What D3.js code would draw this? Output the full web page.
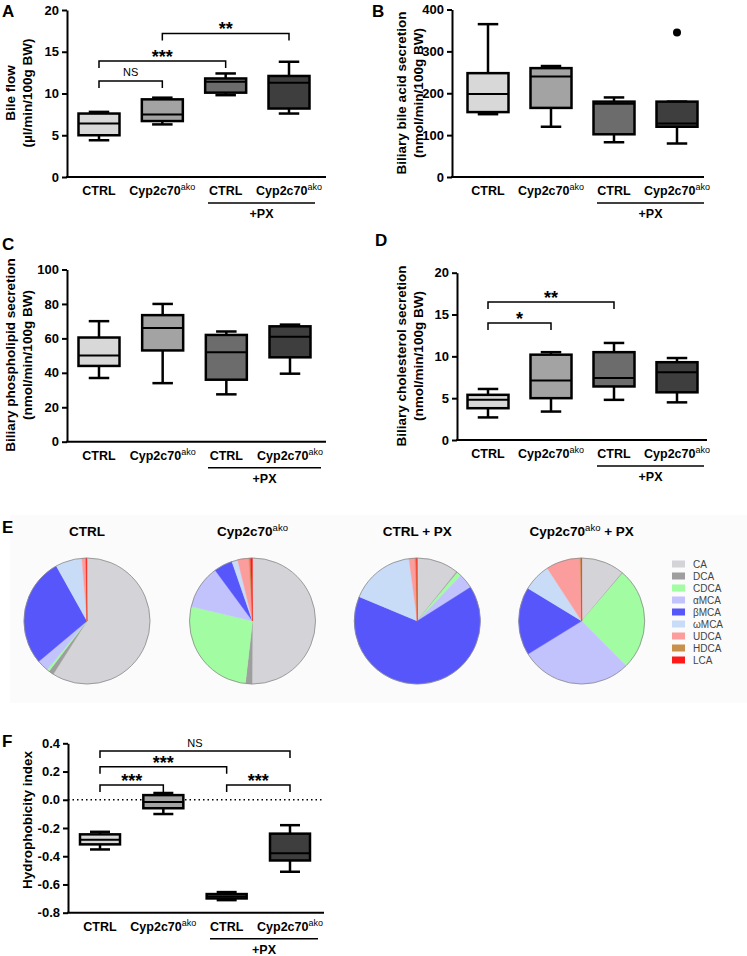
<!DOCTYPE html>
<html><head><meta charset="utf-8">
<script src="https://cdn.jsdelivr.net/npm/d3@7"></script>
<style>body{margin:0;background:#fff} text{font-family:Arial,"Liberation Sans",Helvetica,sans-serif}</style>
</head><body>
<svg id="c" width="747" height="956"></svg>
<script>
// ---------- DATA ----------
const groups = ["CTRL", "Cyp2c70ako", "CTRL+PX", "Cyp2c70ako+PX"];
const groupNames = ["CTRL", "Cyp2c70", "CTRL", "Cyp2c70"];
const groupSups = ["", "ako", "", "ako"];
const groupFills = ["#d8d8d8", "#a3a3a3", "#6c6c6c", "#3e3e3e"];
const treatmentLabel = "+PX";

// box stats: [min, q1, median, q3, max]
const bileFlow = [[4.4, 5.0, 6.4, 7.6, 7.8], [6.3, 6.7, 7.5, 9.3, 9.5], [9.8, 10.1, 11.4, 11.8, 12.4], [7.6, 8.2, 11.3, 12.1, 13.8]];
const bileAcidSecretion = [[150, 155, 198, 248, 365], [120, 165, 240, 260, 265], [83, 102, 175, 180, 190], [80, 120, 128, 180, 180]];
const bileAcidOutliers = [[3, 345]];
const phospholipidSecretion = [[37, 44, 50, 60.5, 70], [34, 53, 66, 73.5, 80], [27.5, 36, 52, 62, 64], [39.5, 49, 61, 67, 68]];
const cholesterolSecretion = [[2.7, 3.8, 4.8, 5.4, 6.1], [3.4, 5.0, 7.1, 10.2, 10.5], [4.8, 6.4, 7.4, 10.5, 11.6], [4.5, 5.7, 8.1, 9.3, 9.8]];
const hydrophobicityIndex = [[-0.352, -0.316, -0.283, -0.245, -0.227], [-0.101, -0.06, -0.015, 0.033, 0.048], [-0.711, -0.699, -0.685, -0.668, -0.654], [-0.51, -0.43, -0.378, -0.24, -0.18]];

const ticksA = [0, 5, 10, 15, 20];
const ticksB = [0, 100, 200, 300, 400];
const ticksC = [0, 20, 40, 60, 80, 100];
const ticksD = [0, 5, 10, 15, 20];
const ticksF = [-0.8, -0.6, -0.4, -0.2, 0.0, 0.2, 0.4];
const tickLabelsF = ["-0.8", "-0.6", "-0.4", "-0.2", "0.0", "0.2", "0.4"];

const bracketsA = [{a: 0, b: 1, v: 11.5, t: "NS"}, {a: 0, b: 2, v: 13.9, t: "***"}, {a: 1, b: 3, v: 17.2, t: "**"}];
const bracketsD = [{a: 0, b: 1, v: 14.0, t: "*"}, {a: 0, b: 2, v: 16.5, t: "**"}];
const bracketsF = [{a: 0, b: 3, v: 0.345, t: "NS"}, {a: 0, b: 2, v: 0.234, t: "***"}, {a: 0, b: 1, v: 0.104, t: "***"}, {a: 2, b: 3, v: 0.104, t: "***"}];

const pieTitles = ["CTRL", "Cyp2c70ako", "CTRL + PX", "Cyp2c70ako + PX"];
const bileAcids = ["CA", "DCA", "CDCA", "αMCA", "βMCA", "ωMCA", "UDCA", "HDCA", "LCA"];
const acidColors = ["#d4d3d8", "#9e9e9e", "#a2fca2", "#c2c2fd", "#5656fb", "#c8dcf7", "#fc9d9d", "#c8904a", "#ff1a1a"];
const compCTRL = [59.0, 1.3, 0.6, 3.0, 28.0, 6.8, 0.9, 0.2, 0.2];
const compCyp = [50.1, 1.7, 26.9, 11.2, 4.8, 1.5, 2.9, 0.4, 0.5];
const compCtrlPX = [10.7, 0.3, 1.2, 3.8, 65.3, 16.6, 1.5, 0.4, 0.2];
const compCypPX = [11.1, 0.2, 26.3, 28.6, 17.5, 7.1, 8.8, 0.3, 0.1];

// ---------- DRAW ----------
const svg = d3.select("#c");
const FONT = 'Arial,"Liberation Sans",Helvetica,sans-serif';

function panelLetter(t, x, y) {
  svg.append("text").attr("x", x).attr("y", y).attr("font-size", 17).attr("font-weight", "bold").text(t);
}

function catLabel(g, x, y, i) {
  const t = g.append("text").attr("x", x).attr("y", y).attr("text-anchor", "middle")
    .attr("font-size", 12.5).attr("font-weight", "bold").text(groupNames[i]);
  if (groupSups[i]) t.append("tspan").attr("dy", -5).attr("font-size", 9).attr("font-weight", "normal").text(groupSups[i]);
}

function boxPanel(cfg) {
  const g = svg.append("g");
  const y = d3.scaleLinear().domain(cfg.domain).range([cfg.yBottom, cfg.yTop]);
  const x = d3.scalePoint().domain(groups).range(cfg.xRange);
  const ax = d3.axisLeft(y).tickValues(cfg.ticks).tickSize(5).tickSizeOuter(0).tickPadding(3)
    .tickFormat((d, i) => cfg.tickLabels ? cfg.tickLabels[i] : d3.format("d")(d));
  const ag = g.append("g").attr("transform", `translate(${cfg.axisX},0)`).call(ax);
  ag.select(".domain").attr("stroke", "#000").attr("stroke-width", 2);
  ag.selectAll(".tick line").attr("stroke", "#000").attr("stroke-width", 2);
  ag.selectAll(".tick text").attr("font-size", 13).attr("font-weight", "bold").attr("fill", "#000").attr("font-family", FONT);
  const yb = cfg.yBottom;
  g.append("line").attr("x1", cfg.axisX - 1).attr("x2", cfg.axisEnd).attr("y1", yb).attr("y2", yb)
    .attr("stroke", "#000").attr("stroke-width", 2);
  if (cfg.zeroLine) {
    g.append("line").attr("x1", cfg.axisX).attr("x2", cfg.axisEnd).attr("y1", y(0)).attr("y2", y(0))
      .attr("stroke", "#000").attr("stroke-width", 1.5).attr("stroke-dasharray", "1.5,3");
  }
  cfg.title.forEach((t, i) => {
    g.append("text").attr("transform", `translate(${cfg.titleX[i]},${cfg.titleY}) rotate(-90)`)
      .attr("text-anchor", "middle").attr("font-size", 13.5).attr("font-weight", "bold").text(t);
  });
  const bw = cfg.boxW, cw = bw / 2;
  cfg.data.forEach((s, i) => {
    const cx = x(groups[i]);
    const bg = g.append("g");
    bg.append("line").attr("x1", cx).attr("x2", cx).attr("y1", y(s[0])).attr("y2", y(s[4])).attr("stroke", "#000").attr("stroke-width", 2.5);
    [s[0], s[4]].forEach(v => bg.append("line").attr("x1", cx - cw / 2).attr("x2", cx + cw / 2).attr("y1", y(v)).attr("y2", y(v)).attr("stroke", "#000").attr("stroke-width", 2.5));
    bg.append("rect").attr("x", cx - bw / 2).attr("y", y(s[3])).attr("width", bw).attr("height", Math.max(0.1, y(s[1]) - y(s[3])))
      .attr("fill", groupFills[i]).attr("stroke", "#000").attr("stroke-width", 2.5);
    bg.append("line").attr("x1", cx - bw / 2).attr("x2", cx + bw / 2).attr("y1", y(s[2])).attr("y2", y(s[2])).attr("stroke", "#000").attr("stroke-width", 2);
  });
  (cfg.outliers || []).forEach(o => {
    g.append("circle").attr("cx", x(groups[o[0]])).attr("cy", y(o[1])).attr("r", 4).attr("fill", "#000");
  });
  (cfg.brackets || []).forEach(b => {
    const x1 = x(groups[b.a]), x2 = x(groups[b.b]), yy = y(b.v);
    g.append("path").attr("d", `M${x1},${yy + 7}V${yy}H${x2}V${yy + 7}`).attr("fill", "none").attr("stroke", "#000").attr("stroke-width", 1.5);
    const isNS = b.t === "NS";
    g.append("text").attr("x", (x1 + x2) / 2).attr("y", isNS ? yy - 4.5 : yy + 2)
      .attr("text-anchor", "middle").attr("font-size", isNS ? 11 : 18).attr("font-weight", isNS ? "normal" : "bold").text(b.t);
  });
  groups.forEach((d, i) => catLabel(g, x(d), yb + 18, i));
  const px1 = cfg.pxLine[0], px2 = cfg.pxLine[1];
  g.append("line").attr("x1", px1).attr("x2", px2).attr("y1", yb + 26).attr("y2", yb + 26).attr("stroke", "#000").attr("stroke-width", 1.5);
  g.append("text").attr("x", (px1 + px2) / 2).attr("y", yb + 41).attr("text-anchor", "middle")
    .attr("font-size", 12.5).attr("font-weight", "bold").text(treatmentLabel);
}

panelLetter("A", 2, 17);
boxPanel({domain: [0, 20], yTop: 10, yBottom: 177, axisX: 67, axisEnd: 326, xRange: [99, 289], boxW: 41,
  ticks: ticksA, data: bileFlow, brackets: bracketsA, title: ["Bile flow", "(µl/min/100g BW)"], titleX: [15, 32], titleY: 93,
  pxLine: [208, 315]});
panelLetter("B", 372, 17);
boxPanel({domain: [0, 400], yTop: 9.5, yBottom: 177, axisX: 452, axisEnd: 704, xRange: [488, 677], boxW: 41,
  ticks: ticksB, data: bileAcidSecretion, outliers: bileAcidOutliers, title: ["Biliary bile acid secretion", "(nmol/min/100g BW)"],
  titleX: [406, 423], titleY: 93, pxLine: [597, 704]});
panelLetter("C", 2, 250);
boxPanel({domain: [0, 100], yTop: 269.5, yBottom: 441.7, axisX: 67, axisEnd: 326, xRange: [99, 290], boxW: 41,
  ticks: ticksC, data: phospholipidSecretion, title: ["Biliary phospholipid secretion", "(nmol/min/100g BW)"],
  titleX: [15, 32], titleY: 355, pxLine: [208, 321]});
panelLetter("D", 375, 246);
boxPanel({domain: [0, 20], yTop: 272.7, yBottom: 440, axisX: 457, axisEnd: 707, xRange: [488, 677], boxW: 41,
  ticks: ticksD, data: cholesterolSecretion, brackets: bracketsD, title: ["Biliary cholesterol secretion", "(nmol/min/100g BW)"],
  titleX: [406, 423], titleY: 356, pxLine: [597, 704]});
panelLetter("F", 2, 747);
boxPanel({domain: [-0.8, 0.4], yTop: 743.3, yBottom: 912.7, axisX: 68, axisEnd: 324, xRange: [100, 290], boxW: 40,
  ticks: ticksF, tickLabels: tickLabelsF, data: hydrophobicityIndex, brackets: bracketsF, zeroLine: true,
  title: ["Hydrophobicity index"], titleX: [32], titleY: 820, pxLine: [210, 318]});

// Panel E: pies
svg.append("rect").attr("x", 10).attr("y", 515).attr("width", 737).attr("height", 188).attr("fill", "#fbfbfb");
panelLetter("E", 2, 533);
const comps = [compCTRL, compCyp, compCtrlPX, compCypPX];
const pieX = d3.scaleOrdinal().domain(pieTitles).range([87, 252.5, 417.3, 581.7]);
const pie = d3.pie().sort(null).value(d => d);
const arc = d3.arc().innerRadius(0).outerRadius(63);
pieTitles.forEach((t, k) => {
  const gx = pieX(t);
  const g = svg.append("g").attr("transform", `translate(${gx},621)`);
  g.selectAll("path").data(pie(comps[k])).join("path").attr("d", arc)
    .attr("fill", (d, i) => acidColors[i]).attr("stroke", (d, i) => acidColors[i]).attr("stroke-width", 0.4);
  g.append("circle").attr("r", 63).attr("fill", "none").attr("stroke", "#8a8a8a").attr("stroke-width", 0.8);
  const tt = svg.append("text").attr("x", gx).attr("y", 536).attr("text-anchor", "middle")
    .attr("font-size", 13.5).attr("font-weight", "bold");
  const parts = t.split("ako");
  tt.append("tspan").text(parts[0]);
  if (parts.length > 1) {
    tt.append("tspan").attr("dy", -5).attr("font-size", 9.5).attr("font-weight", "normal").text("ako");
    tt.append("tspan").attr("dy", 5).text(parts[1]);
  }
});
const ly = d3.scalePoint().domain(bileAcids).range([564, 660]);
bileAcids.forEach((a, i) => {
  svg.append("rect").attr("x", 672).attr("y", ly(a) - 3.5).attr("width", 13).attr("height", 7).attr("fill", acidColors[i]);
  svg.append("text").attr("x", 693).attr("y", ly(a) + 3.5).attr("font-size", 10).attr("fill", "#444").text(a);
});
</script>
</body></html>
